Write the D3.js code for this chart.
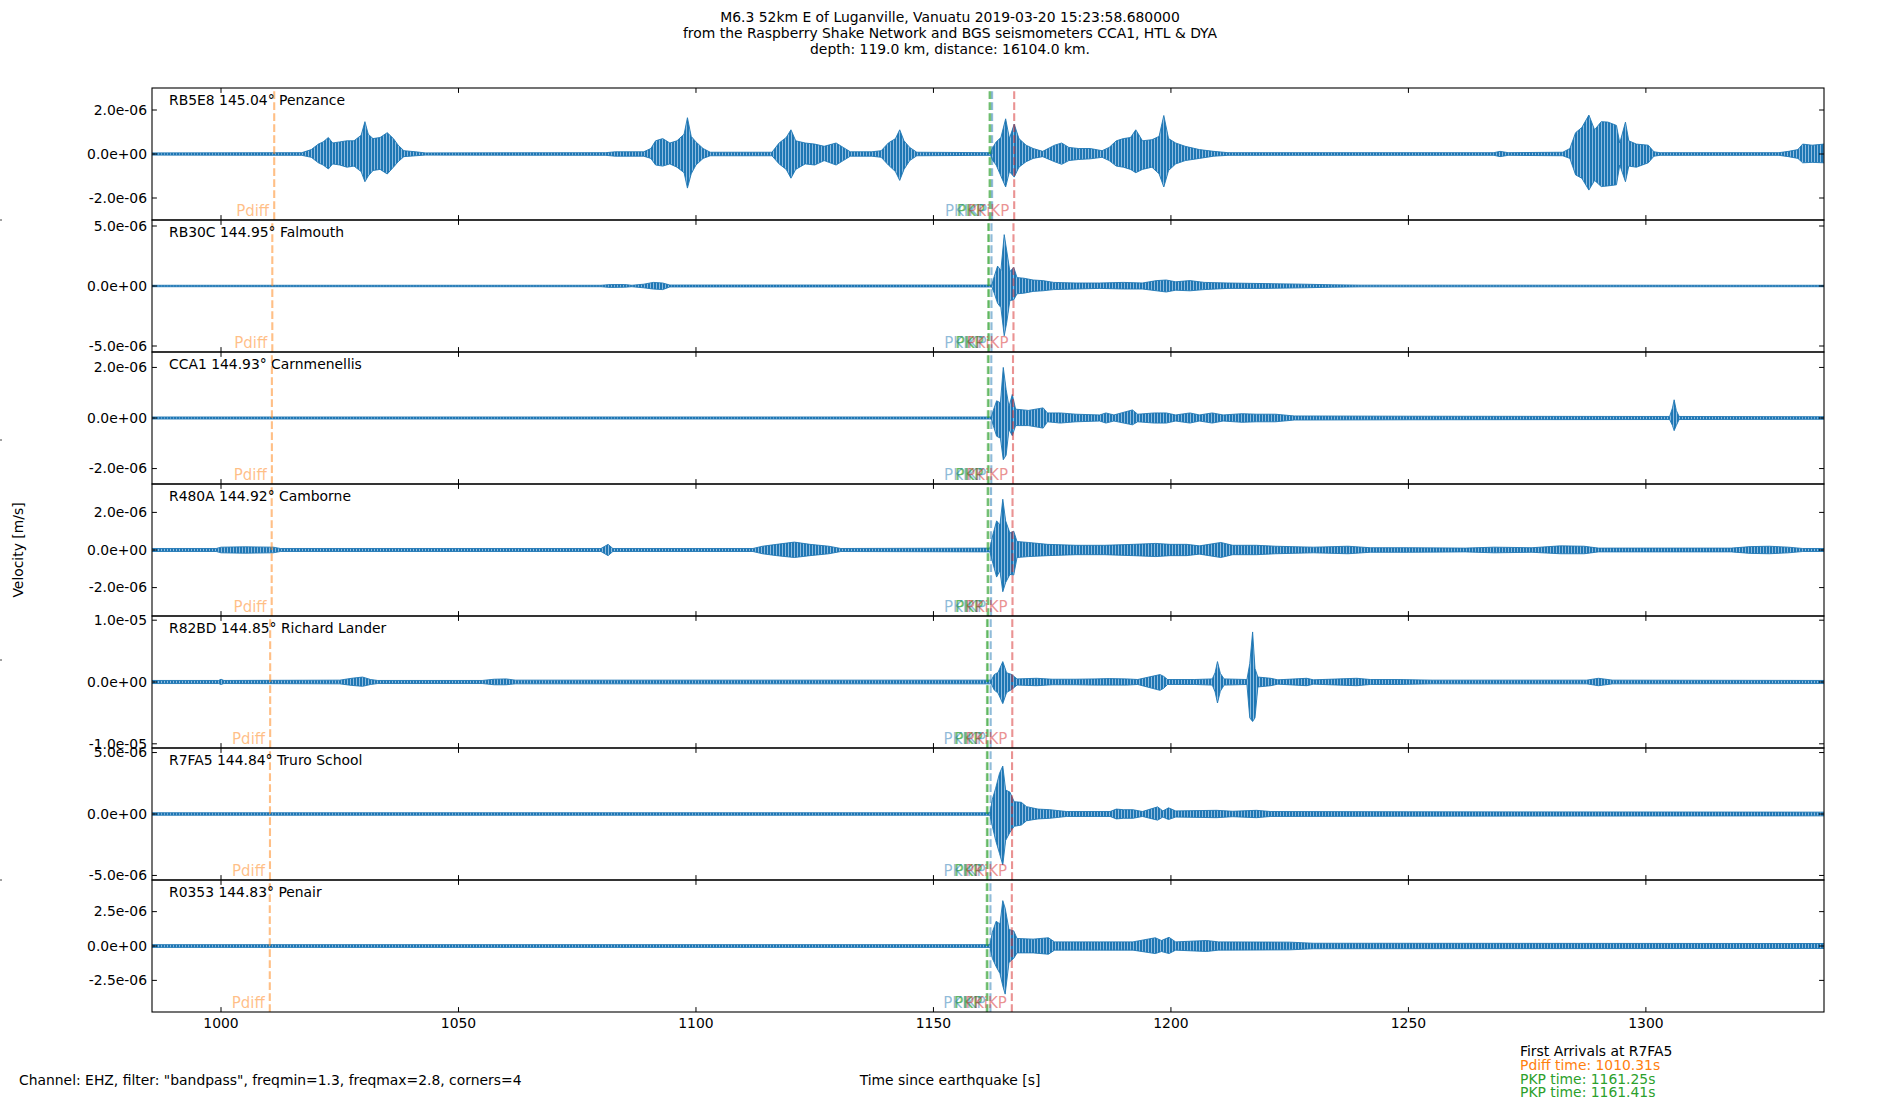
<!DOCTYPE html>
<html>
<head>
<meta charset="utf-8">
<script src="https://cdn.jsdelivr.net/npm/d3@7"></script>
<style>
  body { margin: 0; background: #fff; }
  svg { display: block; font-family: "DejaVu Sans", sans-serif; }
</style>
</head>
<body>
<div id="chart"></div>
<script>
// stations, top to bottom
var stationCodes = ["RB5E8", "RB30C", "CCA1", "R480A", "R82BD", "R7FA5", "R0353"];
var stationDists = [145.04, 144.95, 144.93, 144.92, 144.85, 144.84, 144.83];
var stationNames = ["Penzance", "Falmouth", "Carnmenellis", "Camborne", "Richard Lander", "Truro School", "Penair"];

// y limits (m/s, symmetric) and y tick values for each panel
var yLimits = [3.0e-6, 5.5e-6, 2.61e-6, 3.51e-6, 1.068e-5, 5.37e-6, 4.8e-6];
var yTicks = [
    [-2e-6, 0, 2e-6],
    [-5e-6, 0, 5e-6],
    [-2e-6, 0, 2e-6],
    [-2e-6, 0, 2e-6],
    [-1e-5, 0, 1e-5],
    [-5e-6, 0, 5e-6],
    [-2.5e-6, 0, 2.5e-6]
];

// x axis (seconds since the earthquake)
var timeRange = [985.47, 1337.5];
var xTicks = [1000, 1050, 1100, 1150, 1200, 1250, 1300];

// phase arrival times per station (s)
var pdiffTimes = [1011.20, 1010.80, 1010.71, 1010.67, 1010.35, 1010.31, 1010.27];
var pkpTimesA = [1161.80, 1161.52, 1161.45, 1161.40, 1161.27, 1161.25, 1161.22];
var pkpTimesB = [1161.98, 1161.70, 1161.63, 1161.58, 1161.44, 1161.41, 1161.38];
var pkikpTimes = [1162.35, 1162.22, 1162.18, 1162.13, 1162.05, 1162.03, 1162.00];
var pkikpTimes2 = [1167.00, 1166.85, 1166.75, 1166.65, 1166.60, 1166.55, 1166.50];

// first arrivals listed for R7FA5
var firstPhases = ["Pdiff", "PKP", "PKP"];
var firstTimes = [1010.31, 1161.25, 1161.41];

// trace envelopes: [time s, upper, lower] in 1e-6 m/s
var envRB5E8 = [
    [985, .05, -.05], [1017, .06, -.06], [1019, .2, -.15], [1020.5, .45, -.4], [1021.5, .55, -.5],
    [1022.6, .75, -.68], [1023.5, .5, -.45], [1025, .55, -.5], [1026.5, .6, -.6], [1028, .6, -.55],
    [1029.5, .85, -.8], [1030.3, 1.47, -1.26], [1031, .9, -1.0], [1032, .7, -.75], [1033.5, .75, -.7],
    [1035, .97, -.91], [1036.3, .7, -.6], [1037.3, .4, -.35], [1038.5, .15, -.12], [1041, .1, -.08],
    [1043, .05, -.05], [1081, .06, -.06], [1083, .1, -.1], [1089, .1, -.1], [1090.5, .25, -.2],
    [1091.5, .6, -.5], [1093, .7, -.55], [1094.5, .5, -.45], [1096, .6, -.6], [1097.5, .9, -.85],
    [1098.2, 1.65, -1.55], [1099, .8, -.9], [1100, .55, -.5], [1101.5, .25, -.2], [1103, .08, -.08],
    [1116, .08, -.08], [1117.5, .5, -.45], [1119, .75, -.7], [1120, 1.1, -1.1], [1121, .6, -.7],
    [1123, .5, -.45], [1125, .45, -.5], [1127, .35, -.3], [1129.5, .5, -.5], [1131, .3, -.3],
    [1132.5, .1, -.1], [1137, .1, -.1], [1139, .15, -.15], [1140.5, .5, -.5], [1142, .7, -.8],
    [1142.9, 1.1, -1.2], [1143.8, .6, -.7], [1145, .3, -.3], [1146.5, .08, -.08], [1162, .06, -.06],
    [1162.5, .3, -.3], [1163.2, .55, -.5], [1164.2, .75, -1.0], [1165.2, 1.6, -1.5], [1166, .7, -.8],
    [1167, 1.36, -1.05], [1168, .7, -.6], [1169.5, .4, -.35], [1171, .25, -.2], [1173, .12, -.12],
    [1175.5, .4, -.35], [1177, .5, -.47], [1178.5, .3, -.3], [1180.5, .25, -.25], [1183, .25, -.22],
    [1185.5, .15, -.15], [1187, .3, -.3], [1188.5, .6, -.55], [1190, .7, -.6], [1191.5, .75, -.7],
    [1192.6, 1.1, -.85], [1194, .6, -.7], [1196, .65, -.6], [1197.5, .8, -.9], [1198.5, 1.75, -1.5],
    [1199.5, .7, -.75], [1201, .5, -.45], [1203, .35, -.3], [1206, .2, -.2], [1209, .12, -.1],
    [1212, .06, -.06], [1268, .06, -.06], [1269.3, .12, -.12], [1271, .06, -.06], [1282.5, .08, -.08],
    [1284, .25, -.2], [1285.2, .97, -.95], [1286.5, 1.2, -1.1], [1288, 1.77, -1.64], [1289.2, 1.1, -1.2],
    [1290.6, 1.47, -1.48], [1292, 1.45, -1.45], [1293.8, 1.3, -1.4], [1294.5, .5, -.5], [1295.7, 1.45, -1.26],
    [1296.4, .6, -.55], [1298, .45, -.6], [1300.5, .4, -.4], [1301.7, .1, -.1], [1303, .06, -.06],
    [1328, .06, -.06], [1330, .12, -.12], [1332, .2, -.2], [1333, .45, -.4], [1335, .4, -.38],
    [1337.5, .45, -.4]
];
var envRB30C = [
    [985, .06, -.06], [1080, .06, -.06], [1082, .12, -.12], [1085, .12, -.1], [1086.5, .06, -.06],
    [1089, .15, -.15], [1091, .3, -.25], [1093, .25, -.3], [1094.5, .08, -.08], [1162.3, .08, -.08],
    [1162.8, .8, -.6], [1163.5, 1.66, -1.44], [1164.2, 1.3, -1.8], [1164.9, 4.28, -4.15], [1165.4, 3.0, -3.1],
    [1166.1, 1.2, -1.2], [1166.9, 1.55, -1.16], [1167.6, .7, -.65], [1169, .65, -.6], [1171, .5, -.45],
    [1173, .45, -.4], [1175.3, .3, -.3], [1180, .25, -.25], [1185, .25, -.2], [1190, .3, -.25],
    [1194, .25, -.25], [1197, .45, -.4], [1199, .5, -.5], [1201, .35, -.35], [1204, .45, -.4],
    [1207, .3, -.3], [1212, .25, -.2], [1220, .2, -.2], [1228, .15, -.15], [1234, .1, -.1],
    [1240, .07, -.07], [1337.5, .06, -.06]
];
var envCCA1 = [
    [985, .04, -.04], [1162.2, .04, -.04], [1162.6, .3, -.3], [1163.3, .68, -.72], [1164.1, .6, -.8],
    [1164.7, 2.0, -1.65], [1165.3, 1.13, -1.47], [1165.9, .45, -.45], [1166.6, .93, -.7], [1167.3, .35, -.3],
    [1170, .3, -.3], [1173.1, .4, -.4], [1174, .2, -.15], [1176.7, .2, -.2], [1180, .15, -.15],
    [1185, .12, -.12], [1186.3, .2, -.2], [1188, .12, -.12], [1191.9, .32, -.27], [1193, .15, -.15],
    [1196.5, .2, -.2], [1199, .2, -.2], [1201, .12, -.12], [1204, .2, -.2], [1206, .12, -.12],
    [1208.7, .2, -.2], [1211, .12, -.12], [1215, .17, -.17], [1218, .15, -.15], [1222, .15, -.15],
    [1226, .08, -.08], [1250, .07, -.07], [1300, .06, -.06], [1305, .06, -.06], [1305.6, .4, -.3],
    [1305.95, .72, -.5], [1306.4, .3, -.3], [1307, .06, -.06], [1337.5, .05, -.05]
];
var envR480A = [
    [985, .08, -.08], [999, .08, -.08], [1000, .15, -.15], [1005, .17, -.17], [1011, .15, -.15],
    [1012.5, .08, -.08], [1080, .08, -.08], [1081.5, .3, -.3], [1082.5, .08, -.08], [1112, .08, -.08],
    [1114, .2, -.2], [1117, .3, -.3], [1120.7, .42, -.4], [1124, .3, -.3], [1128, .2, -.2],
    [1130.5, .08, -.08], [1161.9, .1, -.1], [1162.5, .8, -.7], [1163.3, 1.55, -1.44], [1164, 1.33, -1.1],
    [1164.6, 2.7, -2.22], [1165.2, 1.55, -1.73], [1166.1, .9, -1.3], [1166.9, 1.0, -1.33], [1167.6, .45, -.4],
    [1170, .4, -.35], [1174, .3, -.3], [1180, .25, -.25], [1186, .25, -.25], [1192.1, .3, -.3],
    [1196.8, .35, -.35], [1199.8, .3, -.3], [1203.3, .3, -.3], [1206, .22, -.22], [1210.5, .4, -.4],
    [1213, .25, -.25], [1218, .25, -.25], [1222, .2, -.2], [1230, .15, -.15], [1237.3, .2, -.2],
    [1242, .12, -.12], [1250, .12, -.12], [1262, .1, -.1], [1268, .15, -.15], [1276, .12, -.12],
    [1282, .22, -.2], [1287, .2, -.2], [1290, .1, -.1], [1318, .1, -.1], [1322, .18, -.18],
    [1326, .2, -.2], [1330, .15, -.15], [1333, .08, -.08], [1337.5, .08, -.08]
];
var envR82BD = [
    [985, .25, -.25], [999.5, .25, -.25], [1000, .45, -.4], [1000.6, .25, -.25], [1025, .3, -.3],
    [1027.5, .6, -.55], [1029.8, .8, -.7], [1031.5, .4, -.4], [1033, .25, -.25], [1055, .25, -.25],
    [1057.5, .45, -.45], [1060, .5, -.45], [1062, .3, -.3], [1162.2, .3, -.3], [1162.8, 1.2, -1.3],
    [1163.6, 1.55, -1.8], [1164.6, 3.3, -3.5], [1165.4, 1.5, -1.7], [1166.5, 1.2, -1.2], [1167.6, .5, -.5],
    [1171.7, .6, -.6], [1175, .45, -.45], [1180, .45, -.45], [1184, .5, -.5], [1187, .55, -.5],
    [1190.7, .5, -.5], [1193, .4, -.4], [1197.7, 1.2, -1.35], [1198.5, .9, -1.0], [1199.3, .4, -.4],
    [1205, .4, -.4], [1208.7, .5, -.5], [1209.3, 1.5, -1.6], [1209.8, 3.3, -3.4], [1210.4, 1.4, -1.5],
    [1211.2, .5, -.5], [1216, .4, -.4], [1216.6, 3.0, -5.8], [1217.2, 8.1, -6.4], [1217.7, 2.2, -5.8],
    [1218.3, .8, -.8], [1221, .6, -.6], [1222.5, .35, -.35], [1228.6, .6, -.6], [1230, .35, -.35],
    [1239.1, .6, -.6], [1242, .4, -.4], [1248, .4, -.4], [1255, .3, -.3], [1287.5, .3, -.3],
    [1290, .6, -.6], [1293, .3, -.3], [1337.5, .25, -.25]
];
var envR7FA5 = [
    [985, .1, -.1], [1161.9, .1, -.1], [1162.4, 1.2, -1.0], [1163.1, 2.1, -2.15], [1163.9, 3.3, -3.2],
    [1164.6, 3.9, -4.15], [1165.2, 1.95, -2.15], [1166.1, 1.78, -1.5], [1167, 1.0, -1.0], [1168.5, .95, -.9],
    [1169.6, .6, -.55], [1172, .4, -.4], [1174.5, .35, -.35], [1178, .2, -.2], [1184, .2, -.2],
    [1187.2, .2, -.2], [1188.5, .4, -.4], [1190, .35, -.35], [1192, .35, -.35], [1194, .2, -.2],
    [1197.2, .58, -.5], [1198.3, .25, -.25], [1199.5, .5, -.45], [1201, .25, -.25], [1209.6, .3, -.3],
    [1213, .22, -.22], [1218, .3, -.3], [1221, .2, -.2], [1250, .18, -.18], [1337.5, .15, -.15]
];
var envR0353 = [
    [985, .1, -.1], [1161.9, .1, -.1], [1162.4, 1.0, -.9], [1163.2, 1.8, -1.5], [1164, 1.6, -2.0],
    [1164.6, 3.3, -2.9], [1165.1, 2.75, -3.5], [1165.9, 1.2, -1.2], [1166.9, 1.1, -.9], [1167.6, .55, -.5],
    [1171, .5, -.5], [1174.2, .6, -.6], [1175.5, .3, -.3], [1185, .3, -.3], [1192, .3, -.3],
    [1196.7, .6, -.55], [1198, .4, -.4], [1199.6, .63, -.55], [1201, .3, -.3], [1207.5, .4, -.4],
    [1210, .3, -.3], [1225, .28, -.28], [1230, .2, -.2], [1337.5, .18, -.18]
];
var envelopes = [envRB5E8, envRB30C, envCCA1, envR480A, envR82BD, envR7FA5, envR0353];

// layout
var width = 1900, height = 1100;
var margin = { top: 88, left: 152, right: 76 };
var panelH = 132;
var plotRight = width - margin.right;
var fontSize = "13.9px";
var phaseFontSize = "15px";
var tickLen = 4.9;
var traceColor = "#1f77b4";

var svg = d3.select("#chart")
    .append("svg")
    .attr("width", width)
    .attr("height", height);

var x = d3.scaleLinear().domain(timeRange).range([margin.left, plotRight]);

// tick label like matplotlib "%.1e"
function sciFmt(v) {
    if (v === 0) return "0.0e+00";
    var e = Math.floor(Math.log10(Math.abs(v)) + 1e-9);
    var m = v / Math.pow(10, e);
    var ae = Math.abs(e);
    return m.toFixed(1) + "e" + (e < 0 ? "-" : "+") + (ae < 10 ? "0" + ae : ae);
}

var defs = svg.append("defs");

// vertical hatching so the filled envelope reads like dense wiggles
var hatch = defs.append("pattern")
    .attr("id", "wiggle")
    .attr("patternUnits", "userSpaceOnUse")
    .attr("width", 3)
    .attr("height", 10);
hatch.append("rect").attr("width", 3).attr("height", 10).attr("fill", "#8dbbe0");
hatch.append("rect").attr("width", 2).attr("height", 10).attr("fill", traceColor);

// title
var titleLines = [
    "M6.3 52km E of Luganville, Vanuatu 2019-03-20 15:23:58.680000",
    "from the Raspberry Shake Network and BGS seismometers CCA1, HTL & DYA",
    "depth: 119.0 km, distance: 16104.0 km."
];
svg.append("g").selectAll("text")
    .data(titleLines)
    .join("text")
    .attr("x", width / 2)
    .attr("y", function (d, i) { return 22 + i * 16.2; })
    .attr("text-anchor", "middle")
    .style("font-size", fontSize)
    .text(function (d) { return d; });

stationCodes.forEach(function (code, i) {
    var top = margin.top + i * panelH,
        bottom = top + panelH;
    var y = d3.scaleLinear()
        .domain([-yLimits[i], yLimits[i]])
        .range([bottom, top]);
    var g = svg.append("g").attr("class", "panel");

    defs.append("clipPath").attr("id", "clip" + i)
        .append("rect")
        .attr("x", margin.left).attr("y", top)
        .attr("width", plotRight - margin.left).attr("height", panelH);

    var plot = g.append("g").attr("clip-path", "url(#clip" + i + ")");

    // waveform envelope
    var area = d3.area()
        .x(function (d) { return x(d[0]); })
        .y0(function (d) { return y(d[2] * 1e-6); })
        .y1(function (d) { return y(d[1] * 1e-6); });
    plot.append("path")
        .datum(envelopes[i])
        .attr("d", area)
        .attr("fill", "url(#wiggle)")
        .attr("stroke", traceColor)
        .attr("stroke-width", 0.9)
        .attr("stroke-linejoin", "round");

    // phase markers
    var phases = [
        { t: pdiffTimes[i], name: "Pdiff", color: "#ff7f0e" },
        { t: pkpTimesA[i], name: "PKP", color: "#2ca02c" },
        { t: pkpTimesB[i], name: "PKP", color: "#2ca02c" },
        { t: pkikpTimes[i], name: "PKIKP", color: "#1f77b4" },
        { t: pkikpTimes2[i], name: "PKiKP", color: "#d62728" }
    ];
    plot.selectAll("line.phase")
        .data(phases)
        .join("line")
        .attr("class", "phase")
        .attr("x1", function (d) { return x(d.t); })
        .attr("x2", function (d) { return x(d.t); })
        .attr("y1", bottom)
        .attr("y2", top)
        .attr("stroke", function (d) { return d.color; })
        .attr("stroke-opacity", 0.5)
        .attr("stroke-width", 2.1)
        .attr("stroke-dasharray", "7.7,3.3");
    g.selectAll("text.phase")
        .data(phases)
        .join("text")
        .attr("class", "phase")
        .attr("x", function (d) { return x(d.t) - 5; })
        .attr("y", bottom - 4.5)
        .attr("text-anchor", "end")
        .attr("fill", function (d) { return d.color; })
        .attr("fill-opacity", 0.5)
        .style("font-size", phaseFontSize)
        .text(function (d) { return d.name; });

    // station label
    g.append("text")
        .attr("x", margin.left + 17)
        .attr("y", top + 16.5)
        .style("font-size", fontSize)
        .text(code + " " + stationDists[i].toFixed(2) + "\u00b0 " + stationNames[i]);

    // frame
    g.append("rect")
        .attr("x", margin.left).attr("y", top)
        .attr("width", plotRight - margin.left).attr("height", panelH)
        .attr("fill", "none")
        .attr("stroke", "#000")
        .attr("stroke-width", 1.1);

    // y ticks, inward on both sides
    var yt = g.append("g").selectAll("g")
        .data(yTicks[i])
        .join("g");
    yt.append("line")
        .attr("x1", margin.left).attr("x2", margin.left + tickLen)
        .attr("y1", function (d) { return y(d); }).attr("y2", function (d) { return y(d); })
        .attr("stroke", "#000");
    yt.append("line")
        .attr("x1", plotRight - tickLen).attr("x2", plotRight)
        .attr("y1", function (d) { return y(d); }).attr("y2", function (d) { return y(d); })
        .attr("stroke", "#000");
    yt.append("text")
        .attr("x", margin.left - 5)
        .attr("y", function (d) { return y(d); })
        .attr("dy", "0.35em")
        .attr("text-anchor", "end")
        .style("font-size", fontSize)
        .text(sciFmt);

    // x ticks, inward top and bottom
    var xt = g.append("g").selectAll("g")
        .data(xTicks)
        .join("g");
    xt.append("line")
        .attr("x1", function (d) { return x(d); }).attr("x2", function (d) { return x(d); })
        .attr("y1", bottom).attr("y2", bottom - tickLen)
        .attr("stroke", "#000");
    xt.append("line")
        .attr("x1", function (d) { return x(d); }).attr("x2", function (d) { return x(d); })
        .attr("y1", top).attr("y2", top + tickLen)
        .attr("stroke", "#000");
    if (i === stationCodes.length - 1) {
        xt.append("text")
            .attr("x", function (d) { return x(d); })
            .attr("y", bottom + 16)
            .attr("text-anchor", "middle")
            .style("font-size", fontSize)
            .text(function (d) { return d; });
    }
});

// stray ticks of the figure-wide axis at the left edge
svg.append("g").selectAll("line")
    .data([0.2, 0.4, 0.6, 0.8])
    .join("line")
    .attr("x1", 0).attr("x2", 2)
    .attr("y1", function (d) { return height * d; })
    .attr("y2", function (d) { return height * d; })
    .attr("stroke", "#444");

// axis labels
svg.append("text")
    .attr("transform", "translate(18," + (margin.top + panelH * 3.5) + ") rotate(-90)")
    .attr("text-anchor", "middle")
    .attr("dy", "0.35em")
    .style("font-size", fontSize)
    .text("Velocity [m/s]");
svg.append("text")
    .attr("x", width / 2)
    .attr("y", 1085)
    .attr("text-anchor", "middle")
    .style("font-size", fontSize)
    .text("Time since earthquake [s]");
svg.append("text")
    .attr("x", 19)
    .attr("y", 1085)
    .style("font-size", fontSize)
    .text('Channel: EHZ, filter: "bandpass", freqmin=1.3, freqmax=2.8, corners=4');

// first arrivals box
var arrivalColors = { Pdiff: "#ff7f0e", PKP: "#2ca02c" };
var fa = svg.append("g");
fa.append("text")
    .attr("x", 1520).attr("y", 1056)
    .style("font-size", fontSize)
    .text("First Arrivals at R7FA5");
fa.selectAll("text.arr")
    .data(firstPhases)
    .join("text")
    .attr("class", "arr")
    .attr("x", 1520)
    .attr("y", function (d, i) { return 1069.8 + i * 13.7; })
    .attr("fill", function (d) { return arrivalColors[d]; })
    .style("font-size", fontSize)
    .text(function (d, i) { return d + " time: " + firstTimes[i].toFixed(2) + "s"; });
</script>
</body>
</html>
